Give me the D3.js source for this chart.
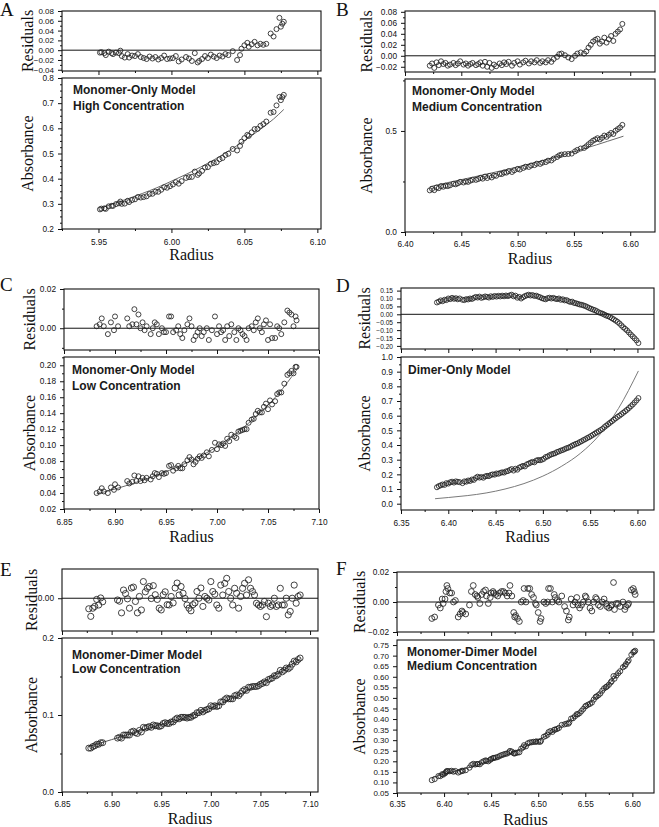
<!DOCTYPE html>
<html><head><meta charset="utf-8">
<script src="https://cdn.jsdelivr.net/npm/d3@7"></script>
<style>body{margin:0;background:#fff}svg{display:block}</style>
</head><body>
<svg id="chart" width="659" height="827"></svg>
<script>
// ---------- DATA: [radius, absorbance, residual] ----------
const dataA = [[5.951,0.278,-0.005],[5.952,0.281,-0.004],[5.954,0.282,-0.006],[5.955,0.280,-0.010],[5.957,0.290,-0.003],[5.959,0.292,-0.006],[5.960,0.292,-0.008],[5.962,0.299,-0.005],[5.964,0.302,-0.006],[5.965,0.309,-0.001],
[5.966,0.300,-0.012],[5.968,0.301,-0.015],[5.970,0.312,-0.008],[5.971,0.307,-0.015],[5.973,0.315,-0.011],[5.975,0.318,-0.012],[5.977,0.327,-0.008],[5.979,0.325,-0.014],[5.981,0.327,-0.016],[5.983,0.330,-0.018],
[5.985,0.339,-0.013],[5.987,0.340,-0.017],[5.989,0.348,-0.014],[5.991,0.348,-0.019],[5.993,0.356,-0.016],[5.995,0.366,-0.011],[5.997,0.364,-0.018],[5.999,0.370,-0.017],[6.001,0.377,-0.016],[6.003,0.386,-0.012],
[6.005,0.380,-0.023],[6.007,0.390,-0.019],[6.010,0.403,-0.014],[6.012,0.406,-0.017],[6.014,0.407,-0.022],[6.016,0.428,-0.006],[6.018,0.415,-0.025],[6.019,0.421,-0.022],[6.021,0.431,-0.018],[6.023,0.444,-0.012],
[6.025,0.446,-0.016],[6.027,0.459,-0.009],[6.029,0.462,-0.013],[6.031,0.465,-0.016],[6.033,0.477,-0.011],[6.035,0.482,-0.013],[6.037,0.494,-0.008],[6.039,0.499,-0.010],[6.042,0.518,-0.002],[6.045,0.512,-0.020],
[6.047,0.530,-0.010],[6.048,0.547,0.003],[6.050,0.561,0.010],[6.052,0.574,0.015],[6.053,0.570,0.007],[6.055,0.584,0.012],[6.057,0.597,0.017],[6.059,0.598,0.010],[6.061,0.610,0.013],[6.063,0.617,0.011],
[6.065,0.627,0.013],[6.068,0.662,0.034],[6.070,0.665,0.028],[6.072,0.691,0.043],[6.074,0.725,0.066],[6.075,0.712,0.048],[6.076,0.724,0.054],[6.077,0.733,0.058]];
const fitA = [[5.951,0.283],[5.96,0.300],[5.97,0.320],[5.98,0.341],[5.99,0.364],[6.00,0.390],[6.01,0.417],[6.02,0.446],[6.03,0.478],[6.04,0.513],[6.05,0.551],[6.06,0.592],[6.07,0.637],[6.077,0.675]];

const dataB = [[6.422,0.206,-0.018],[6.424,0.213,-0.014],[6.426,0.207,-0.022],[6.428,0.220,-0.012],[6.430,0.217,-0.017],[6.432,0.227,-0.010],[6.434,0.224,-0.015],[6.436,0.229,-0.013],[6.438,0.227,-0.018],[6.440,0.231,-0.016],
[6.443,0.238,-0.013],[6.445,0.236,-0.017],[6.447,0.241,-0.014],[6.449,0.248,-0.010],[6.452,0.245,-0.016],[6.454,0.250,-0.014],[6.456,0.248,-0.018],[6.458,0.254,-0.015],[6.460,0.258,-0.013],[6.463,0.258,-0.017],
[6.465,0.262,-0.015],[6.467,0.268,-0.012],[6.469,0.264,-0.018],[6.471,0.274,-0.011],[6.473,0.267,-0.020],[6.475,0.277,-0.013],[6.477,0.270,-0.022],[6.479,0.279,-0.016],[6.481,0.278,-0.019],[6.484,0.287,-0.014],
[6.486,0.287,-0.017],[6.488,0.294,-0.012],[6.490,0.294,-0.015],[6.492,0.301,-0.011],[6.495,0.297,-0.018],[6.497,0.305,-0.013],[6.500,0.312,-0.010],[6.502,0.309,-0.016],[6.505,0.317,-0.012],[6.507,0.323,-0.009],
[6.510,0.322,-0.014],[6.512,0.329,-0.010],[6.515,0.331,-0.012],[6.517,0.338,-0.008],[6.520,0.337,-0.013],[6.522,0.343,-0.010],[6.525,0.346,-0.012],[6.527,0.353,-0.008],[6.530,0.354,-0.011],[6.532,0.363,-0.006],
[6.535,0.371,-0.002],[6.537,0.379,0.003],[6.539,0.383,0.004],[6.542,0.385,0.001],[6.545,0.386,-0.003],[6.548,0.388,-0.006],[6.551,0.399,0.000],[6.553,0.406,0.004],[6.556,0.413,0.006],[6.559,0.416,0.004],
[6.561,0.424,0.008],[6.563,0.434,0.015],[6.565,0.443,0.020],[6.567,0.452,0.026],[6.569,0.458,0.029],[6.571,0.464,0.031],[6.573,0.458,0.022],[6.575,0.466,0.026],[6.577,0.477,0.033],[6.579,0.471,0.024],
[6.581,0.481,0.030],[6.583,0.490,0.036],[6.585,0.485,0.027],[6.587,0.501,0.040],[6.589,0.509,0.044],[6.591,0.517,0.048],[6.593,0.530,0.058]];
const fitB = [[6.422,0.224],[6.44,0.247],[6.46,0.271],[6.48,0.296],[6.50,0.322],[6.52,0.350],[6.54,0.381],[6.55,0.397],[6.56,0.414],[6.57,0.431],[6.58,0.449],[6.594,0.474]];

const dataC = [[6.882,0.040,0.001],[6.885,0.042,0.002],[6.887,0.046,0.005],[6.889,0.042,0.001],[6.893,0.040,-0.003],[6.896,0.047,0.003],[6.899,0.044,-0.001],[6.900,0.051,0.006],[6.903,0.047,0.001],[6.912,0.055,0.005],
[6.914,0.052,0.001],[6.917,0.054,0.002],[6.919,0.062,0.0097],[6.921,0.055,0.002],[6.923,0.061,0.007],[6.925,0.055,0.000],[6.927,0.059,0.003],[6.929,0.056,-0.001],[6.931,0.059,0.001],[6.935,0.057,-0.003],
[6.937,0.061,0.000],[6.939,0.065,0.003],[6.941,0.064,0.002],[6.943,0.060,-0.003],[6.946,0.065,0.000],[6.948,0.064,-0.002],[6.950,0.065,-0.002],[6.953,0.074,0.006],[6.955,0.075,0.006],[6.957,0.068,-0.002],
[6.960,0.071,-0.001],[6.962,0.074,0.001],[6.964,0.071,-0.003],[6.966,0.071,-0.005],[6.968,0.076,-0.001],[6.971,0.081,0.002],[6.973,0.085,0.005],[6.975,0.082,0.001],[6.977,0.076,-0.006],[6.979,0.079,-0.004],
[6.981,0.083,-0.002],[6.983,0.086,0.000],[6.985,0.084,-0.004],[6.987,0.087,-0.002],[6.990,0.091,0.000],[6.992,0.086,-0.006],[6.995,0.094,-0.001],[6.998,0.103,0.006],[7.000,0.095,-0.003],[7.002,0.101,0.001],
[7.004,0.100,-0.002],[7.006,0.102,-0.001],[7.008,0.099,-0.006],[7.010,0.108,0.001],[7.012,0.105,-0.004],[7.014,0.113,0.002],[7.017,0.111,-0.002],[7.019,0.109,-0.006],[7.021,0.117,0.000],[7.023,0.118,-0.001],
[7.025,0.119,-0.003],[7.027,0.120,-0.004],[7.029,0.120,-0.006],[7.031,0.128,0.000],[7.034,0.132,0.001],[7.036,0.133,-0.001],[7.038,0.139,0.003],[7.040,0.143,0.005],[7.042,0.141,0.000],[7.044,0.141,-0.002],
[7.046,0.148,0.002],[7.048,0.152,0.004],[7.050,0.145,-0.006],[7.052,0.156,0.002],[7.054,0.151,-0.005],[7.057,0.155,-0.005],[7.059,0.164,0.001],[7.061,0.166,0.000],[7.063,0.166,-0.003],[7.066,0.177,0.003],
[7.069,0.188,0.009],[7.071,0.190,0.008],[7.073,0.193,0.007],[7.075,0.190,0.001],[7.077,0.198,0.006],[7.078,0.198,0.004]];
const fitC = [[6.882,0.039],[6.90,0.045],[6.92,0.053],[6.94,0.062],[6.96,0.072],[6.98,0.084],[7.00,0.098],[7.02,0.116],[7.04,0.138],[7.06,0.164],[7.078,0.194]];

const dataD = [[6.388,0.112,0.075],[6.390,0.120,0.080],[6.392,0.125,0.088],[6.394,0.131,0.083],[6.396,0.128,0.092],[6.398,0.140,0.090],[6.400,0.137,0.100],[6.402,0.146,0.096],[6.404,0.150,0.104],[6.406,0.144,0.098],
[6.408,0.152,0.102],[6.410,0.149,0.095],[6.412,0.147,0.100],[6.415,0.140,0.092],[6.417,0.152,0.090],[6.419,0.150,0.096],[6.421,0.158,0.094],[6.423,0.155,0.100],[6.425,0.165,0.097],[6.427,0.162,0.104],
[6.429,0.175,0.110],[6.431,0.184,0.106],[6.433,0.178,0.112],[6.435,0.182,0.104],[6.437,0.177,0.108],[6.439,0.186,0.113],[6.441,0.190,0.110],[6.443,0.188,0.106],[6.445,0.196,0.114],[6.447,0.200,0.110],
[6.449,0.198,0.116],[6.451,0.206,0.112],[6.453,0.204,0.117],[6.455,0.210,0.113],[6.457,0.214,0.118],[6.459,0.212,0.114],[6.461,0.220,0.119],[6.463,0.222,0.115],[6.465,0.230,0.120],[6.467,0.236,0.124],
[6.469,0.226,0.114],[6.471,0.238,0.118],[6.473,0.232,0.105],[6.475,0.246,0.110],[6.477,0.252,0.100],[6.479,0.258,0.108],[6.481,0.254,0.115],[6.483,0.268,0.120],[6.485,0.273,0.124],[6.487,0.280,0.119],
[6.489,0.285,0.122],[6.491,0.282,0.116],[6.493,0.294,0.118],[6.495,0.298,0.112],[6.497,0.296,0.108],[6.499,0.300,0.102],[6.501,0.306,0.098],[6.503,0.318,0.095],[6.505,0.322,0.102],[6.507,0.330,0.105],
[6.509,0.336,0.100],[6.511,0.340,0.104],[6.513,0.344,0.099],[6.515,0.352,0.096],[6.517,0.356,0.100],[6.519,0.362,0.092],[6.521,0.366,0.095],[6.523,0.372,0.088],[6.525,0.378,0.090],[6.527,0.382,0.083],
[6.529,0.388,0.078],[6.531,0.396,0.080],[6.533,0.402,0.072],[6.535,0.408,0.070],[6.537,0.412,0.066],[6.539,0.420,0.062],[6.541,0.426,0.060],[6.543,0.434,0.056],[6.545,0.440,0.052],[6.547,0.448,0.046],
[6.549,0.454,0.040],[6.551,0.462,0.035],[6.553,0.470,0.030],[6.555,0.478,0.026],[6.557,0.486,0.020],[6.559,0.494,0.013],[6.561,0.502,0.008],[6.563,0.510,0.004],[6.565,0.522,-0.002],[6.567,0.532,-0.008],
[6.569,0.542,-0.012],[6.571,0.552,-0.018],[6.573,0.562,-0.025],[6.575,0.572,-0.032],[6.577,0.582,-0.040],[6.579,0.592,-0.048],[6.581,0.600,-0.058],[6.583,0.610,-0.070],[6.585,0.620,-0.082],[6.587,0.630,-0.092],
[6.589,0.640,-0.102],[6.591,0.652,-0.115],[6.593,0.664,-0.128],[6.595,0.676,-0.140],[6.597,0.690,-0.152],[6.599,0.704,-0.165],[6.601,0.720,-0.182]];
const fitD = [[6.386,0.034],[6.40,0.042],[6.42,0.055],[6.44,0.073],[6.46,0.100],[6.48,0.137],[6.50,0.188],[6.52,0.256],[6.54,0.345],[6.56,0.470],[6.58,0.650],[6.601,0.905]];

const dataE = [[6.877,0.057,-0.0036],[6.879,0.057,-0.0062],[6.881,0.059,-0.0034],[6.883,0.060,-0.0028],[6.885,0.062,-0.0004],[6.887,0.062,-0.0023],[6.889,0.064,0.0001],[6.891,0.064,-0.0012],
[6.906,0.070,-0.0006],[6.908,0.071,-0.0010],[6.910,0.070,-0.0050],[6.912,0.074,0.0028],[6.914,0.074,0.0016],[6.916,0.074,-0.0002],[6.918,0.074,-0.0034],[6.920,0.078,0.0035],[6.922,0.079,0.0038],[6.924,0.077,-0.0011],
[6.926,0.076,-0.0050],[6.928,0.080,0.0006],[6.930,0.078,-0.0040],[6.932,0.084,0.0057],[6.934,0.083,0.0022],[6.936,0.084,0.0034],[6.938,0.085,0.0040],[6.940,0.084,-0.0001],[6.942,0.087,0.0043],[6.944,0.086,0.0012],
[6.946,0.086,-0.0004],[6.948,0.085,-0.0034],[6.950,0.086,-0.0040],[6.952,0.089,0.0012],[6.954,0.090,0.0022],[6.956,0.089,-0.0022],[6.958,0.089,-0.0023],[6.960,0.091,0.0006],[6.962,0.091,-0.0016],[6.964,0.094,0.0035],
[6.966,0.096,0.0052],[6.968,0.095,0.0011],[6.970,0.097,0.0040],[6.972,0.097,0.0017],[6.974,0.097,-0.0001],[6.976,0.096,-0.0023],[6.978,0.097,-0.0034],[6.980,0.097,-0.0043],[6.982,0.099,-0.0022],[6.984,0.100,-0.0016],
[6.986,0.103,0.0023],[6.988,0.103,0.0000],[6.990,0.106,0.0035],[6.992,0.104,-0.0028],[6.994,0.106,0.0006],[6.996,0.107,0.0000],[6.998,0.108,-0.0006],[7.000,0.112,0.0057],[7.002,0.111,0.0023],[7.004,0.112,0.0014],
[7.006,0.111,-0.0023],[7.008,0.112,-0.0034],[7.010,0.117,0.0045],[7.012,0.117,0.0011],[7.014,0.120,0.0051],[7.016,0.122,0.0068],[7.018,0.121,0.0023],[7.020,0.121,0.0000],[7.022,0.121,-0.0023],[7.024,0.125,0.0034],
[7.026,0.126,0.0017],[7.028,0.125,-0.0034],[7.030,0.128,0.0006],[7.032,0.131,0.0034],[7.034,0.133,0.0051],[7.036,0.132,0.0011],[7.038,0.136,0.0063],[7.040,0.136,0.0034],[7.042,0.137,0.0023],[7.044,0.137,0.0011],
[7.046,0.137,-0.0017],[7.048,0.138,-0.0023],[7.050,0.140,-0.0028],[7.052,0.141,-0.0023],[7.054,0.143,-0.0011],[7.056,0.142,-0.0063],[7.058,0.146,-0.0017],[7.060,0.147,-0.0028],[7.062,0.148,-0.0023],[7.064,0.151,0.0000],
[7.066,0.151,-0.0028],[7.068,0.153,-0.0023],[7.070,0.158,0.0034],[7.072,0.156,-0.0023],[7.074,0.158,-0.0023],[7.076,0.161,0.0000],[7.078,0.160,-0.0057],[7.080,0.162,-0.0045],[7.082,0.166,0.0000],[7.084,0.170,0.0045],
[7.086,0.169,-0.0017],[7.088,0.172,0.0006],[7.090,0.174,0.0011]];
const fitE = [[6.877,0.059],[6.90,0.068],[6.92,0.076],[6.94,0.084],[6.96,0.091],[6.98,0.099],[7.00,0.109],[7.02,0.121],[7.04,0.134],[7.06,0.148],[7.08,0.164],[7.09,0.173]];

const dataF = [[6.387,0.111,-0.011],[6.390,0.116,-0.010],[6.394,0.130,-0.002],[6.396,0.130,-0.004],[6.398,0.139,0.002],[6.399,0.137,-0.001],[6.401,0.143,0.002],[6.402,0.149,0.007],[6.403,0.154,0.011],[6.404,0.153,0.009],
[6.406,0.153,0.006],[6.408,0.155,0.006],[6.410,0.151,0.000],[6.412,0.154,0.001],[6.415,0.147,-0.010],[6.417,0.151,-0.008],[6.419,0.155,-0.006],[6.420,0.155,-0.007],[6.423,0.158,-0.008],[6.427,0.170,-0.002],
[6.429,0.182,0.007],[6.431,0.188,0.011],[6.433,0.185,0.005],[6.435,0.187,0.004],[6.436,0.187,0.003],[6.438,0.186,-0.001],[6.440,0.195,0.005],[6.442,0.200,0.007],[6.444,0.204,0.008],[6.445,0.202,0.004],
[6.447,0.200,-0.001],[6.449,0.207,0.003],[6.450,0.211,0.006],[6.452,0.215,0.007],[6.453,0.216,0.006],[6.455,0.218,0.005],[6.457,0.220,0.004],[6.459,0.225,0.006],[6.461,0.229,0.007],[6.463,0.232,0.007],
[6.465,0.235,0.006],[6.467,0.237,0.004],[6.469,0.242,0.006],[6.470,0.249,0.011],[6.472,0.246,0.004],[6.474,0.238,-0.007],[6.475,0.237,-0.010],[6.476,0.240,-0.009],[6.478,0.241,-0.011],[6.480,0.243,-0.013],
[6.482,0.260,0.000],[6.484,0.266,0.001],[6.485,0.276,0.009],[6.487,0.271,0.000],[6.489,0.285,0.009],[6.491,0.289,0.009],[6.493,0.290,0.005],[6.495,0.292,0.003],[6.497,0.292,-0.001],[6.498,0.294,-0.002],
[6.500,0.293,-0.007],[6.502,0.292,-0.013],[6.503,0.297,-0.011],[6.506,0.316,0.000],[6.508,0.320,-0.001],[6.510,0.326,0.000],[6.511,0.338,0.009],[6.513,0.343,0.009],[6.515,0.339,0.000],[6.517,0.349,0.005],
[6.518,0.350,0.003],[6.520,0.353,0.001],[6.522,0.358,0.000],[6.525,0.372,0.004],[6.528,0.375,-0.003],[6.530,0.378,-0.006],[6.532,0.378,-0.012],[6.533,0.384,-0.010],[6.535,0.402,0.002],[6.537,0.404,-0.002],
[6.539,0.413,0.000],[6.541,0.423,0.003],[6.542,0.422,-0.002],[6.544,0.428,-0.004],[6.546,0.438,-0.002],[6.548,0.448,0.000],[6.550,0.460,0.004],[6.551,0.463,0.003],[6.553,0.468,0.000],[6.555,0.472,-0.004],
[6.557,0.478,-0.006],[6.559,0.492,0.000],[6.561,0.504,0.003],[6.562,0.507,0.002],[6.564,0.513,-0.002],[6.566,0.521,-0.003],[6.568,0.534,0.000],[6.570,0.545,0.002],[6.572,0.551,-0.001],[6.573,0.554,-0.003],
[6.575,0.562,-0.004],[6.577,0.573,-0.003],[6.578,0.579,-0.002],[6.580,0.603,0.013],[6.581,0.591,-0.005],[6.583,0.606,-0.001],[6.585,0.617,-0.001],[6.587,0.626,-0.003],[6.590,0.645,0.000],[6.592,0.651,-0.005],
[6.593,0.659,-0.003],[6.595,0.671,-0.002],[6.596,0.678,-0.001],[6.599,0.704,0.008],[6.601,0.716,0.009],[6.602,0.719,0.007],[6.603,0.723,0.005]];
const fitF = [[6.387,0.122],[6.40,0.140],[6.42,0.162],[6.44,0.190],[6.46,0.220],[6.48,0.256],[6.50,0.300],[6.52,0.352],[6.54,0.416],[6.56,0.496],[6.58,0.590],[6.59,0.645],[6.603,0.718]];

// ---------- TICKS & LABELS ----------
const xTicksA = [5.95, 6.00, 6.05, 6.10];
const resTicksA = [-0.04, -0.02, 0.00, 0.02, 0.04, 0.06, 0.08];
const absTicksA = [0.2, 0.3, 0.4, 0.5, 0.6, 0.7, 0.8];
const xTicksB = [6.40, 6.45, 6.50, 6.55, 6.60];
const resTicksB = [-0.02, 0.00, 0.02, 0.04, 0.06, 0.08];
const absTicksB = [0.0, 0.5];
const xTicksC = [6.85, 6.90, 6.95, 7.00, 7.05, 7.10];
const resTicksC = [0.00, 0.02];
const absTicksC = [0.02, 0.04, 0.06, 0.08, 0.10, 0.12, 0.14, 0.16, 0.18, 0.20];
const xTicksD = [6.35, 6.40, 6.45, 6.50, 6.55, 6.60];
const resTicksD = [-0.20, -0.15, -0.10, -0.05, 0.00, 0.05, 0.10, 0.15];
const absTicksD = [0.0, 0.1, 0.2, 0.3, 0.4, 0.5, 0.6, 0.7, 0.8, 0.9, 1.0];
const xTicksE = [6.85, 6.90, 6.95, 7.00, 7.05, 7.10];
const resTicksE = [0.00];
const absTicksE = [0.0, 0.1, 0.2];
const xTicksF = [6.35, 6.40, 6.45, 6.50, 6.55, 6.60];
const resTicksF = [-0.02, 0.00, 0.02];
const absTicksF = [0.05, 0.10, 0.15, 0.20, 0.25, 0.30, 0.35, 0.40, 0.45, 0.50, 0.55, 0.60, 0.65, 0.70, 0.75];

const notesA = ["Monomer-Only Model", "High Concentration"];
const notesB = ["Monomer-Only Model", "Medium Concentration"];
const notesC = ["Monomer-Only Model", "Low Concentration"];
const notesD = ["Dimer-Only Model"];
const notesE = ["Monomer-Dimer Model", "Low Concentration"];
const notesF = ["Monomer-Dimer Model", "Medium Concentration"];

// ---------- LAYOUT ----------
const panels = [
 {letter:"A", lx:0, ly:16, left:62, right:321, resTop:11, resBot:71, absTop:78, absBot:229,
  xDomain:[5.925,6.1025], resDomain:[-0.0425,0.08], absDomain:[0.2,0.8],
  xTicks:xTicksA, resTicks:resTicksA, absTicks:absTicksA, xMinor:0.025, resMinor:0.01, absMinor:0.025, absFmt:".1f", resFont:8, absFont:8.3, xPad:6,
  data:dataA, fit:fitA, fitColor:"#6a6a6a", rAbs:2.5, rRes:2.5, notes:notesA, noteX:73, noteY:94, noteDy:16, labX:33, radiusY:260},
 {letter:"B", lx:336, ly:16, left:405, right:655, resTop:11, resBot:72, absTop:79, absBot:232,
  xDomain:[6.40,6.622], resDomain:[-0.0295,0.0815], absDomain:[0,0.757],
  xTicks:xTicksB, resTicks:resTicksB, absTicks:absTicksB, xMinor:0.025, resMinor:0.01, absMinor:0.25, absFmt:".1f", resFont:8.3, absFont:8.3, xPad:5,
  data:dataB, fit:fitB, fitColor:"#6a6a6a", rAbs:2.5, rRes:2.5, notes:notesB, noteX:412, noteY:95, noteDy:16, labX:372, radiusY:264},
 {letter:"C", lx:0, ly:291, left:64, right:319, resTop:289, resBot:350, absTop:357, absBot:509,
  xDomain:[6.85,7.10], resDomain:[-0.0111,0.02], absDomain:[0.02,0.2104],
  xTicks:xTicksC, resTicks:resTicksC, absTicks:absTicksC, xMinor:0.025, resMinor:0.01, absMinor:0.01, absFmt:".2f", resFont:8.3, absFont:8.3, xPad:6,
  data:dataC, fit:fitC, fitColor:"#6a6a6a", rAbs:2.5, rRes:2.5, notes:notesC, noteX:72, noteY:374, noteDy:16, labX:34.5, radiusY:542},
 {letter:"D", lx:336, ly:292, left:401, right:654, resTop:288, resBot:349, absTop:357, absBot:510,
  xDomain:[6.35,6.6175], resDomain:[-0.2196,0.1665], absDomain:[-0.043,1.0],
  xTicks:xTicksD, resTicks:resTicksD, absTicks:absTicksD, xMinor:0.025, resMinor:null, absMinor:0.05, absFmt:".1f", resFont:6.6, absFont:8.3, xPad:6,
  data:dataD, fit:fitD, fitColor:"#7a7a7a", rAbs:2.5, rRes:2.5, notes:notesD, noteX:408, noteY:374, noteDy:16, labX:369.5, radiusY:542},
 {letter:"E", lx:0, ly:576, left:62, right:318, resTop:569, resBot:631, absTop:638, absBot:792,
  xDomain:[6.85,7.108], resDomain:[-0.0112,0.0100], absDomain:[0,0.2],
  xTicks:xTicksE, resTicks:resTicksE, absTicks:absTicksE, xMinor:0.025, resMinor:null, absMinor:0.05, absFmt:".1f", resFont:8.3, absFont:8.3, xPad:5,
  data:dataE, fit:fitE, fitColor:"#555", rAbs:3, rRes:3.1, notes:notesE, noteX:72, noteY:659, noteDy:14, labX:36.5, radiusY:824},
 {letter:"F", lx:336, ly:575, left:397, right:654, resTop:572, resBot:632, absTop:640, absBot:793,
  xDomain:[6.35,6.623], resDomain:[-0.02,0.02], absDomain:[0.05,0.774],
  xTicks:xTicksF, resTicks:resTicksF, absTicks:absTicksF, xMinor:0.025, resMinor:0.01, absMinor:null, absFmt:".2f", resFont:8.3, absFont:8, xPad:4,
  data:dataF, fit:fitF, fitColor:"#555", rAbs:2.6, rRes:2.9, notes:notesF, noteX:407, noteY:656, noteDy:14, labX:364.5, radiusY:825}
];

const svg = d3.select("#chart");
svg.append("rect").attr("width",659).attr("height",827).attr("fill","#fff");
const SANS = "'Liberation Sans', Arial, sans-serif";
const SERIF = "'Liberation Serif', 'Times New Roman', serif";

function minorTicks(domain, step, major) {
  if (!step) return [];
  const lo = Math.ceil(domain[0]/step - 1e-6), hi = Math.floor(domain[1]/step + 1e-6);
  return d3.range(lo, hi+1).map(i => +(i*step).toFixed(5))
    .filter(v => !major.some(m => Math.abs(m-v) < 1e-6));
}
function styleAxis(size) {
  return g => {
    g.select(".domain").remove();
    g.selectAll("line").attr("stroke","#111").attr("stroke-width",1);
    g.selectAll("text").attr("font-family",SANS).attr("font-size",size).attr("fill","#111");
  };
}

panels.forEach(p => {
  const g = svg.append("g");
  const x = d3.scaleLinear().domain(p.xDomain).range([p.left, p.right]);
  const yr = d3.scaleLinear().domain(p.resDomain).range([p.resBot, p.resTop]);
  const ya = d3.scaleLinear().domain(p.absDomain).range([p.absBot, p.absTop]);
  const f2 = d3.format(".2f"), fa = d3.format(p.absFmt);
  const xMin = minorTicks(p.xDomain, p.xMinor, p.xTicks);

  g.append("line").attr("x1",p.left).attr("x2",p.right).attr("y1",yr(0)).attr("y2",yr(0))
    .attr("stroke","#111").attr("stroke-width",1);

  g.append("path").datum(p.fit)
    .attr("d", d3.line().x(d=>x(d[0])).y(d=>ya(d[1])).curve(d3.curveMonotoneX))
    .attr("fill","none").attr("stroke",p.fitColor).attr("stroke-width",1);

  g.append("g").selectAll("circle").data(p.data).join("circle")
    .attr("cx",d=>x(d[0])).attr("cy",d=>ya(d[1])).attr("r",p.rAbs)
    .attr("fill","none").attr("stroke","#222").attr("stroke-width",0.85);
  g.append("g").selectAll("circle").data(p.data).join("circle")
    .attr("cx",d=>x(d[0])).attr("cy",d=>yr(d[2])).attr("r",p.rRes)
    .attr("fill","none").attr("stroke","#222").attr("stroke-width",0.85);

  [[p.resTop,p.resBot],[p.absTop,p.absBot]].forEach(([t,b]) => {
    g.append("rect").attr("x",p.left).attr("y",t).attr("width",p.right-p.left).attr("height",b-t)
      .attr("fill","none").attr("stroke","#111").attr("stroke-width",1.1);
  });

  g.append("g").attr("transform",`translate(${p.left},0)`)
    .call(d3.axisLeft(yr).tickValues(p.resTicks).tickSize(4).tickPadding(4).tickFormat(f2)).call(styleAxis(p.resFont));
  g.append("g").attr("transform",`translate(${p.left},0)`)
    .call(d3.axisLeft(yr).tickValues(minorTicks(p.resDomain,p.resMinor,p.resTicks)).tickSize(2).tickFormat("")).call(styleAxis(8));
  g.append("g").attr("transform",`translate(0,${p.resBot})`)
    .call(d3.axisBottom(x).tickValues(p.xTicks).tickSize(4).tickFormat("")).call(styleAxis(8));
  g.append("g").attr("transform",`translate(0,${p.resBot})`)
    .call(d3.axisBottom(x).tickValues(xMin).tickSize(2).tickFormat("")).call(styleAxis(8));

  g.append("g").attr("transform",`translate(${p.left},0)`)
    .call(d3.axisLeft(ya).tickValues(p.absTicks).tickSize(4).tickPadding(4).tickFormat(fa)).call(styleAxis(p.absFont));
  g.append("g").attr("transform",`translate(${p.left},0)`)
    .call(d3.axisLeft(ya).tickValues(minorTicks(p.absDomain,p.absMinor,p.absTicks)).tickSize(2).tickFormat("")).call(styleAxis(8));
  g.append("g").attr("transform",`translate(0,${p.absBot})`)
    .call(d3.axisBottom(x).tickValues(p.xTicks).tickSize(4).tickPadding(p.xPad).tickFormat(f2)).call(styleAxis(8.3));
  g.append("g").attr("transform",`translate(0,${p.absBot})`)
    .call(d3.axisBottom(x).tickValues(xMin).tickSize(2).tickFormat("")).call(styleAxis(8));

  g.append("text").attr("transform",`translate(${p.labX},${(p.resTop+p.resBot)/2}) rotate(-90)`)
    .attr("text-anchor","middle").attr("font-family",SERIF).attr("font-size",16).attr("fill","#111").text("Residuals");
  g.append("text").attr("transform",`translate(${p.labX},${(p.absTop+p.absBot)/2}) rotate(-90)`)
    .attr("text-anchor","middle").attr("font-family",SERIF).attr("font-size",16).attr("fill","#111").text("Absorbance");
  g.append("text").attr("x",(p.left+p.right)/2).attr("y",p.radiusY)
    .attr("text-anchor","middle").attr("font-family",SERIF).attr("font-size",16).attr("fill","#111").text("Radius");

  g.append("text").attr("x",p.lx).attr("y",p.ly).attr("font-family",SERIF).attr("font-size",19).attr("fill","#111").text(p.letter);

  p.notes.forEach((t,i) => {
    g.append("text").attr("x",p.noteX).attr("y",p.noteY + i*p.noteDy)
      .attr("font-family",SANS).attr("font-weight","bold").attr("font-size",12).attr("fill","#1a1a1a").text(t);
  });
});
</script>
</body></html>
